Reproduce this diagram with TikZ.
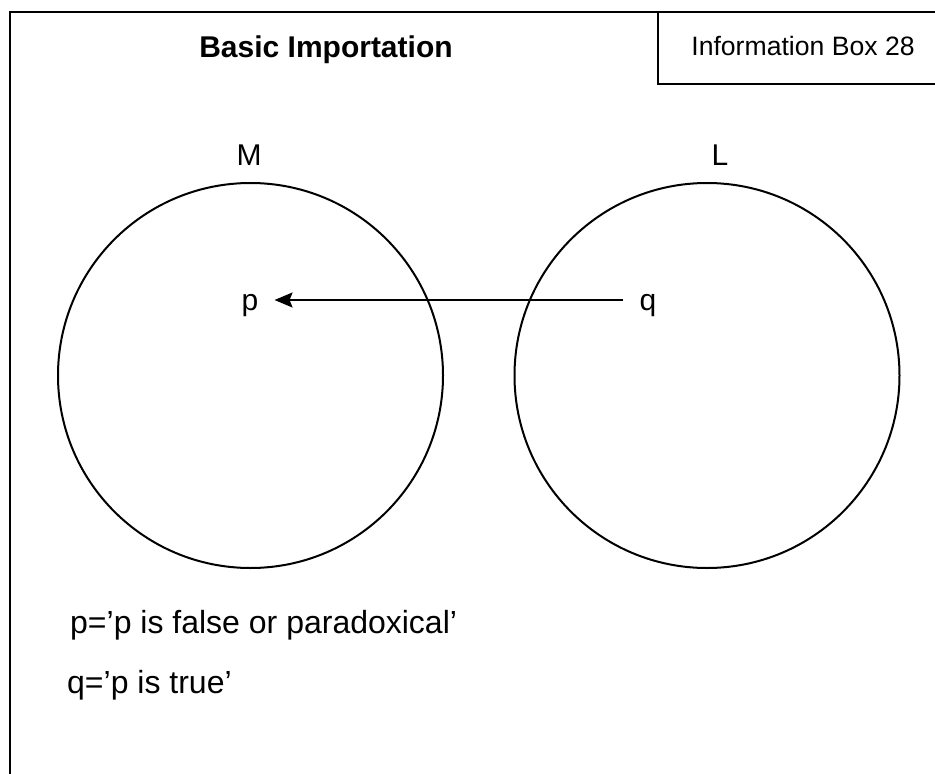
\documentclass[tikz,border=0pt]{standalone}
\usepackage{fontspec}
\setmainfont{Liberation Sans}
\usetikzlibrary{arrows.meta}
\begin{document}
\begin{tikzpicture}[x=1pt,y=-1pt,
  frameline/.style={line width=2pt,line cap=rect},
  circ/.style={line width=2pt},
  lbl/.style={font=\fontsize{30}{36}\selectfont,inner sep=0pt,anchor=base},
  note/.style={font=\fontsize{32}{38}\selectfont,inner sep=0pt,anchor=base west},
  arr/.style={line width=2pt,-{Stealth[length=18pt,width=15pt,inset=3pt]}}]
\useasboundingbox (0,0) rectangle (935,774);
% outer frame (cut by the picture edge)
\draw[frameline] (10,790) -- (10,12) -- (950,12);
% information box
\draw[frameline] (658,12) -- (658,84) -- (950,84);
\node[font=\fontsize{26.6}{32}\selectfont,inner sep=0pt,anchor=base] (info) at (803,55) {Information Box 28};
% title
\node[font=\bfseries\fontsize{30}{36}\selectfont,inner sep=0pt,anchor=base] (title) at (326,57) {Basic Importation};
% circles
\node[circ,draw,circle,minimum size=385pt,inner sep=0pt] (M) at (250.5,375.5) {};
\node[circ,draw,circle,minimum size=385pt,inner sep=0pt] (L) at (707,375.5) {};
\node[lbl] (Mlab) at (249,165) {M};
\node[lbl] (Llab) at (720,165) {L};
% p and q
\node[lbl,inner xsep=16pt] (p) at (250,310) {p};
\node[lbl,inner xsep=16pt] (q) at (648,310) {q};
\draw[arr] ([yshift=10pt]q.base west) -- ([yshift=10pt]p.base east);
% notes
\node[note] (n1) at (70,633) {p=’p is false or paradoxical’};
\node[note] (n2) at (67,693) {q=’p is true’};
\end{tikzpicture}
\end{document}
